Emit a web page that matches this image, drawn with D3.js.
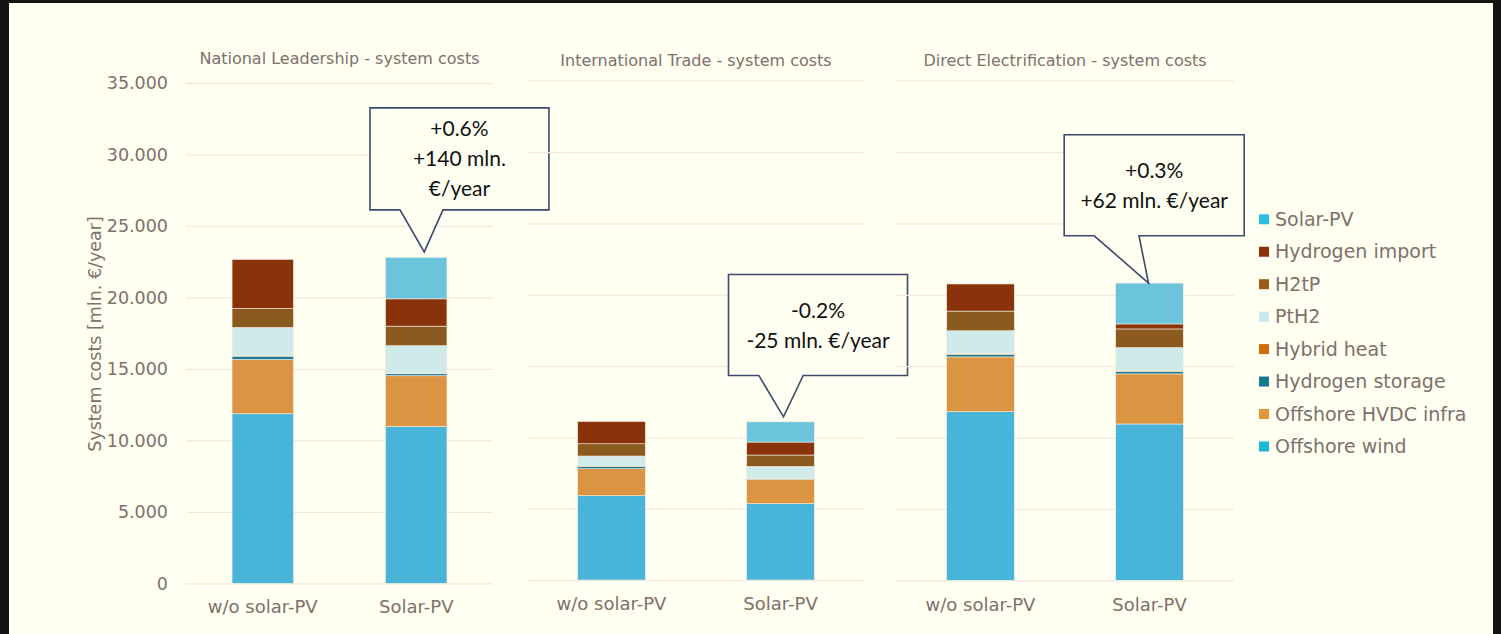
<!DOCTYPE html>
<html>
<head>
<meta charset="utf-8">
<script src="https://cdn.jsdelivr.net/npm/d3@7"></script>
<style>
  body { margin: 0; background: #141414; }
</style>
</head>
<body>
<div id="chart"></div>
<script>
// ---- data (mln. €/year) ----
const scenarios = ["National Leadership", "International Trade", "Direct Electrification"];
const variants = ["w/o solar-PV", "Solar-PV"];
const seriesNames = ["Offshore wind", "Offshore HVDC infra", "Hydrogen storage", "Hybrid heat",
                     "PtH2", "H2tP", "Hydrogen import", "Solar-PV"];

// order: NL w/o, NL PV, IT w/o, IT PV, DE w/o, DE PV
const offshoreWind   = [11860, 10980, 5910, 5350, 11810, 10950];
const offshoreHVDC   = [3800, 3540, 1890, 1710, 3840, 3510];
const hydrogenStore  = [230, 140, 150, 50, 170, 160];
const hybridHeat     = [50, 20, 40, 20, 60, 50];
const pth2           = [1960, 1940, 700, 830, 1600, 1630];
const h2tp           = [1330, 1370, 860, 800, 1380, 1310];
const hydrogenImport = [3430, 1910, 1560, 910, 1900, 350];
const solarPV        = [0, 2900, 0, 1415, 0, 2862];

const seriesValues = [offshoreWind, offshoreHVDC, hydrogenStore, hybridHeat, pth2, h2tp, hydrogenImport, solarPV];

const yTicks = [0, 5000, 10000, 15000, 20000, 25000, 30000, 35000];
const yTickLabels = ["0", "5.000", "10.000", "15.000", "20.000", "25.000", "30.000", "35.000"];

const callouts = [
  ["+0.6%", "+140 mln.", "€/year"],
  ["-0.2%", "-25 mln. €/year"],
  ["+0.3%", "+62 mln. €/year"]
];

// ---- styles ----
const barColors = {
  "Offshore wind": "#47b4d8",
  "Offshore HVDC infra": "#da9442",
  "Hydrogen storage": "#1a7a94",
  "Hybrid heat": "#d8701a",
  "PtH2": "#d0e9e9",
  "H2tP": "#8a5a1f",
  "Hydrogen import": "#8a330b",
  "Solar-PV": "#6cc4dc"
};
const legendColors = {
  "Offshore wind": "#1ab8d8",
  "Offshore HVDC infra": "#e3953a",
  "Hydrogen storage": "#16788f",
  "Hybrid heat": "#d26a0a",
  "PtH2": "#c8e6ee",
  "H2tP": "#9a5a16",
  "Hydrogen import": "#8b2e0a",
  "Solar-PV": "#2bbfe0"
};
const textColor = "#80706b";
const gridColor = "#f3e6de";
const bg = "#fffff2";
const uiFont = "'DejaVu Sans', Verdana, sans-serif";
const boxFont = "Lato, 'Open Sans', sans-serif";

const W = 1501, H = 634;
const svg = d3.select("#chart").append("svg")
  .attr("width", W).attr("height", H)
  .attr("viewBox", [0, 0, W, H])
  .style("font-family", uiFont);

svg.append("rect").attr("width", W).attr("height", H).attr("fill", "#141414");
svg.append("rect").attr("x", 9).attr("y", 3).attr("width", 1484).attr("height", H - 3).attr("fill", bg);

// panel layout (each scenario is its own chart)
const panels = [
  { x0: 186, x1: 493, top: 83, zero: 583.3, titleY: 64, labelY: 612.5, tipDx: 8, tipGap: 5.5,
    box: { dx: -54.3, w: 179, h: 102, gap: 42, b0: -24.3, b1: 18.7 } },
  { x0: 527, x1: 865, top: 80.7, zero: 580, titleY: 66, labelY: 610, tipDx: 3, tipGap: 5,
    box: { dx: -55, w: 179, h: 101, gap: 41.4, b0: -24.7, b1: 19.7 } },
  { x0: 896, x1: 1234, top: 80.7, zero: 580.3, titleY: 66, labelY: 610.5, tipDx: -1, tipGap: 0,
    box: { dx: -84.3, w: 180, h: 101, gap: 47.3, b0: -54.3, b1: -9.5 } }
];

panels.forEach((p, i) => {
  const rows = variants.map((v, j) => {
    const r = { variant: v };
    seriesNames.forEach((s, k) => r[s] = seriesValues[k][i * 2 + j]);
    return r;
  });
  const stacked = d3.stack().keys(seriesNames)(rows);

  const x = d3.scaleBand().domain(variants).range([p.x0, p.x1]).paddingInner(0.6).paddingOuter(0.3);
  const y = d3.scaleLinear().domain([0, 35000]).range([p.zero, p.top]);

  const g = svg.append("g");

  // gridlines
  g.append("g")
    .attr("transform", `translate(${p.x0},0)`)
    .call(d3.axisLeft(y).tickValues(yTicks).tickSize(-(p.x1 - p.x0)).tickFormat(""))
    .call(a => a.select(".domain").remove())
    .call(a => a.selectAll("line").attr("stroke", gridColor).attr("stroke-width", 1.3));

  // y tick labels only on the first panel
  if (i === 0) {
    g.append("g")
      .attr("transform", `translate(${p.x0 - 10},0)`)
      .call(d3.axisLeft(y).tickValues(yTicks).tickSize(0).tickFormat((d, k) => yTickLabels[k]))
      .call(a => a.select(".domain").remove())
      .call(a => a.selectAll("text").attr("fill", textColor).attr("font-size", 17.5)
        .attr("x", -8).attr("dy", "0.34em").style("font-family", uiFont));

    svg.append("text")
      .attr("transform", `translate(101,334) rotate(-90)`)
      .attr("text-anchor", "middle")
      .attr("fill", textColor).attr("font-size", 17.5)
      .text("System costs [mln. €/year]");
  }

  // title
  g.append("text")
    .attr("x", (p.x0 + p.x1) / 2).attr("y", p.titleY)
    .attr("text-anchor", "middle").attr("fill", textColor).attr("font-size", 16)
    .text(scenarios[i] + " - system costs");

  // bars
  g.append("g").selectAll("g").data(stacked).join("g")
    .attr("fill", d => barColors[d.key])
    .selectAll("rect").data(d => d).join("rect")
    .attr("x", d => x(d.data.variant))
    .attr("width", x.bandwidth())
    .attr("y", d => y(d[1]))
    .attr("height", d => Math.max(0, y(d[0]) - y(d[1])))
    .attr("stroke", "#f4efe2").attr("stroke-width", 0.6);

  // x labels
  g.append("g")
    .attr("transform", `translate(0,${p.labelY})`)
    .call(d3.axisBottom(x).tickSize(0))
    .call(a => a.select(".domain").remove())
    .call(a => a.selectAll("text").attr("fill", textColor).attr("font-size", 18)
      .attr("y", 0).attr("dy", 0).style("font-family", uiFont));

  // callout
  const total = d3.sum(seriesValues, s => s[i * 2 + 1]);
  const tx = x("Solar-PV") + x.bandwidth() / 2 + p.tipDx;
  const ty = y(total) - p.tipGap;
  const b = p.box;
  const left = tx + b.dx, bottom = ty - b.gap, topY = bottom - b.h, right = left + b.w;
  const path = d3.path();
  path.moveTo(left, topY);
  path.lineTo(right, topY);
  path.lineTo(right, bottom);
  path.lineTo(tx + b.b1, bottom);
  path.lineTo(tx, ty);
  path.lineTo(tx + b.b0, bottom);
  path.lineTo(left, bottom);
  path.closePath();
  g.append("path").attr("d", path.toString())
    .attr("fill", bg).attr("stroke", "#3c4a6e").attr("stroke-width", 1.6)
    .attr("stroke-linejoin", "miter");

  const lines = callouts[i];
  const cy = (topY + bottom) / 2;
  g.append("g").selectAll("text").data(lines).join("text")
    .attr("x", (left + right) / 2)
    .attr("y", (d, k) => cy + (k - (lines.length - 1) / 2) * 30)
    .attr("dy", "0.36em")
    .attr("text-anchor", "middle")
    .style("font-family", boxFont)
    .attr("font-size", 21).attr("fill", "#111")
    .text(d => d);
});

// legend
const legendOrder = seriesNames.slice().reverse();
const lg = svg.append("g").attr("transform", "translate(1259,219.3)");
const item = lg.selectAll("g").data(legendOrder).join("g")
  .attr("transform", (d, k) => `translate(0,${k * 32.45})`);
item.append("rect").attr("x", 0).attr("y", -5).attr("width", 10).attr("height", 10)
  .attr("fill", d => legendColors[d]);
item.append("text").attr("x", 16).attr("dy", "0.35em")
  .attr("fill", textColor).attr("font-size", 19)
  .text(d => d);
</script>
</body>
</html>
